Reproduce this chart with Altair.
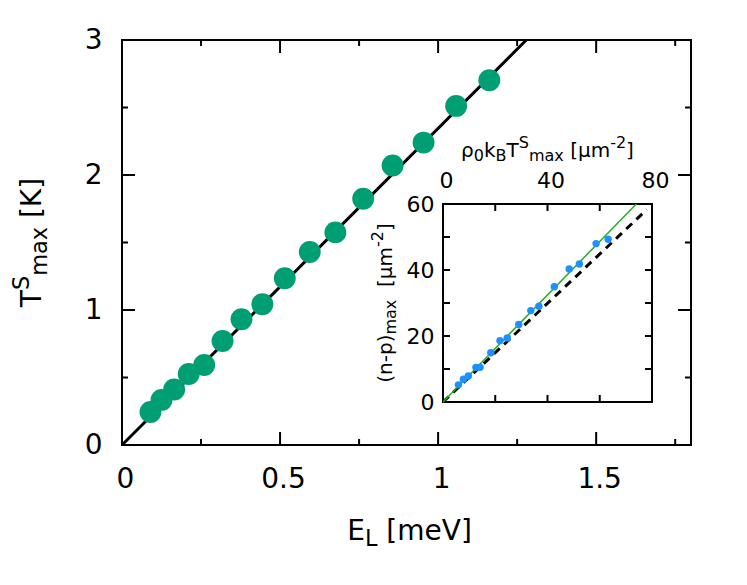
import altair as alt
import pandas as pd

FONT = "DejaVu Sans"
W, H = 569, 405                      # main plot area
IL, IR, IT, IB = 321, 530, 164, 362  # inset plot area (pixels inside main area)

# ---------------- data ----------------
E_L = [0.090, 0.125, 0.165, 0.211, 0.260, 0.318, 0.378, 0.444, 0.515, 0.594,
       0.675, 0.763, 0.856, 0.954, 1.057, 1.162]
T_S = [0.245, 0.334, 0.411, 0.526, 0.593, 0.770, 0.932, 1.043, 1.236, 1.430,
       1.575, 1.824, 2.070, 2.240, 2.512, 2.702]
fit_E = [0.0, 1.279]
fit_T = [0.0, 3.0]

rho_kT = [5.9, 7.8, 9.7, 12.6, 14.2, 18.3, 21.8, 24.6, 29.0, 33.6, 36.7, 42.6,
          48.3, 52.2, 58.6, 63.2]
np_max = [5.2, 6.9, 7.9, 10.5, 10.5, 14.9, 18.6, 19.4, 23.5, 27.7, 29.0, 34.9,
          40.3, 41.8, 48.0, 49.3]
green_x = [0.0, 74.0]
green_y = [0.0, 60.0]
dash_x = [0.0, 78.0]
dash_y = [0.0, 58.3]

x_labels = [0, 0.5, 1, 1.5]
y_labels = [0, 1, 2, 3]
x_major = [0.5, 1.0, 1.5]
x_minor = [0.25, 0.75, 1.25, 1.75]
y_major = [1.0, 2.0]
y_minor = [0.5, 1.5, 2.5]
in_x_labels = [0, 40, 80]
in_y_labels = [0, 20, 40, 60]
in_x_ticks = [20, 40, 60]
in_y_ticks = [10, 20, 30, 40, 50]

# ---------------- scales ----------------
xs = alt.Scale(domain=[0, 1.8], nice=False, zero=False)
ys = alt.Scale(domain=[0, 3], nice=False, zero=False)
ixs = alt.Scale(domain=[0, 80], range=[IL, IR], nice=False, zero=False)
iys = alt.Scale(domain=[0, 60], range=[IB, IT], nice=False, zero=False)

layers = []

# main fit line
layers.append(
    alt.Chart(pd.DataFrame({"E": fit_E, "T": fit_T}))
    .mark_line(color="black", strokeWidth=3)
    .encode(x=alt.X("E:Q", scale=xs, axis=None), y=alt.Y("T:Q", scale=ys, axis=None))
)

# main points with labelled axes
xaxis = alt.Axis(values=x_labels, format="~g", ticks=False, tickSize=0, domain=False,
                 grid=False, labelFontSize=28, labelFont=FONT, labelColor="black",
                 labelPadding=20, labelOffset=3, labelFlush=False, title=None, orient="bottom")
yaxis = alt.Axis(values=y_labels, format="d", ticks=False, tickSize=0, domain=False,
                 grid=False, labelFontSize=28, labelFont=FONT, labelColor="black",
                 labelPadding=20, labelFlush=False, title=None, orient="left")
layers.append(
    alt.Chart(pd.DataFrame({"E": E_L, "T": T_S}))
    .mark_circle(color="#009E73", size=480, opacity=1)
    .encode(x=alt.X("E:Q", scale=xs, axis=xaxis), y=alt.Y("T:Q", scale=ys, axis=yaxis))
)

# main ticks (inward, on all four sides)
def xticks(vals, length, scale, y0, direction):
    return (alt.Chart(pd.DataFrame({"v": vals}))
            .mark_rule(color="black", strokeWidth=2)
            .encode(x=alt.X("v:Q", scale=scale, axis=None),
                    y=alt.value(y0), y2=alt.value(y0 + direction * length)))

def yticks(vals, length, scale, x0, direction):
    return (alt.Chart(pd.DataFrame({"v": vals}))
            .mark_rule(color="black", strokeWidth=2)
            .encode(y=alt.Y("v:Q", scale=scale, axis=None),
                    x=alt.value(x0), x2=alt.value(x0 + direction * length)))

layers += [
    xticks(x_major, 13, xs, H, -1), xticks(x_minor, 6, xs, H, -1),
    xticks(x_major, 13, xs, 0, 1), xticks(x_minor, 6, xs, 0, 1),
    yticks(y_major, 13, ys, 0, 1), yticks(y_minor, 6, ys, 0, 1),
    yticks(y_major, 13, ys, W, -1), yticks(y_minor, 6, ys, W, -1),
]

# inset frame
layers.append(
    alt.Chart(pd.DataFrame({"x0": [0], "x1": [80], "y0": [0], "y1": [60]}))
    .mark_rect(fill="white", stroke="black", strokeWidth=2)
    .encode(x=alt.X("x0:Q", scale=ixs, axis=None), x2="x1:Q",
            y=alt.Y("y0:Q", scale=iys, axis=None), y2="y1:Q")
)
# inset ticks
layers += [
    xticks(in_x_ticks, 7, ixs, IB, -1), xticks(in_x_ticks, 7, ixs, IT, 1),
    yticks(in_y_ticks, 7, iys, IL, 1), yticks(in_y_ticks, 7, iys, IR, -1),
]
# inset lines
layers.append(
    alt.Chart(pd.DataFrame({"x": dash_x, "y": dash_y}))
    .mark_line(color="black", strokeWidth=3, strokeDash=[8, 6])
    .encode(x=alt.X("x:Q", scale=ixs, axis=None), y=alt.Y("y:Q", scale=iys, axis=None))
)
layers.append(
    alt.Chart(pd.DataFrame({"x": green_x, "y": green_y}))
    .mark_line(color="#1fb01f", strokeWidth=1.5)
    .encode(x=alt.X("x:Q", scale=ixs, axis=None), y=alt.Y("y:Q", scale=iys, axis=None))
)
# inset points with its own axes
ixaxis = alt.Axis(values=in_x_labels, format="d", ticks=False, tickSize=0, domain=False,
                  grid=False, labelFontSize=22, labelFont=FONT, labelColor="black",
                  labelPadding=12, labelOffset=3, labelFlush=False, title=None,
                  orient="top", offset=-IT)
iyaxis = alt.Axis(values=in_y_labels, format="d", ticks=False, tickSize=0, domain=False,
                  grid=False, labelFontSize=22, labelFont=FONT, labelColor="black",
                  labelPadding=9, labelFlush=False, title=None, orient="left", offset=-IL)
layers.append(
    alt.Chart(pd.DataFrame({"x": rho_kT, "y": np_max}))
    .mark_circle(color="#1E90FF", size=55, opacity=1)
    .encode(x=alt.X("x:Q", scale=ixs, axis=ixaxis), y=alt.Y("y:Q", scale=iys, axis=iyaxis))
)

# ---------------- rich-text titles ----------------
ADV = {" ": 0.318, "(": 0.390, ")": 0.390, "-": 0.361, ".": 0.318, "[": 0.390, "]": 0.390,
       "B": 0.686, "E": 0.632, "K": 0.656, "L": 0.557, "S": 0.635, "T": 0.611, "V": 0.684,
       "a": 0.613, "e": 0.615, "k": 0.579, "m": 0.974, "n": 0.634, "p": 0.635, "x": 0.592,
       "ρ": 0.635, "μ": 0.635}
for d in "0123456789":
    ADV[d] = 0.636


def tw(s, fs):
    return sum(ADV.get(c, 0.6) for c in s) * fs


def rich(pieces, fs, center, base, rotate=False, ratio=0.8, sup=0.45, sub=0.22):
    sizes = [fs if k == "n" else fs * ratio for _, k in pieces]
    widths = [tw(t, s) for (t, _), s in zip(pieces, sizes)]
    total = sum(widths)
    out = []
    cum = 0.0
    for (t, k), s, w in zip(pieces, sizes, widths):
        lead = len(t) - len(t.lstrip(" "))
        off = cum + lead * ADV[" "] * s
        shift = {"n": 0.0, "sup": -sup * fs, "sub": sub * fs}[k]
        if rotate:
            x, y, ang = base + shift, center + total / 2 - off, 270
        else:
            x, y, ang = center - total / 2 + off, base + shift, 0
        out.append(
            alt.Chart(pd.DataFrame({"t": [t.strip(" ")]}))
            .mark_text(align="left", baseline="alphabetic", font=FONT, fontSize=s,
                       angle=ang, color="black")
            .encode(x=alt.value(x), y=alt.value(y), text="t:N")
        )
        cum += w
    return out


layers += rich([("E", "n"), ("L", "sub"), (" [meV]", "n")], 28, W / 2 + 3, 500)
layers += rich([("T", "n"), ("S", "sup"), ("max", "sub"), (" [K]", "n")], 28, H / 2, -81,
               rotate=True, sup=0.42)
layers += rich([("ρ", "n"), ("0", "sub"), ("k", "n"), ("B", "sub"), ("T", "n"), ("S", "sup"),
                ("max", "sub"), (" [μm", "n"), ("-2", "sup"), ("]", "n")],
               20, (IL + IR) / 2, 117)
layers += rich([("(n-p)", "n"), ("max", "sub"), ("  [μm", "n"), ("-2", "sup"), ("]", "n")],
               20, (IT + IB) / 2, 270, rotate=True)

chart = (
    alt.layer(*layers)
    .resolve_scale(x="independent", y="independent")
    .properties(width=W, height=H, background="white",
                autosize=alt.AutoSizeParams(type="none"),
                padding={"left": 114, "top": 32, "right": 40, "bottom": 130})
    .configure_view(stroke="black", strokeWidth=2)
)

chart.save("out.html", embed_options={"renderer": "svg", "actions": False})
